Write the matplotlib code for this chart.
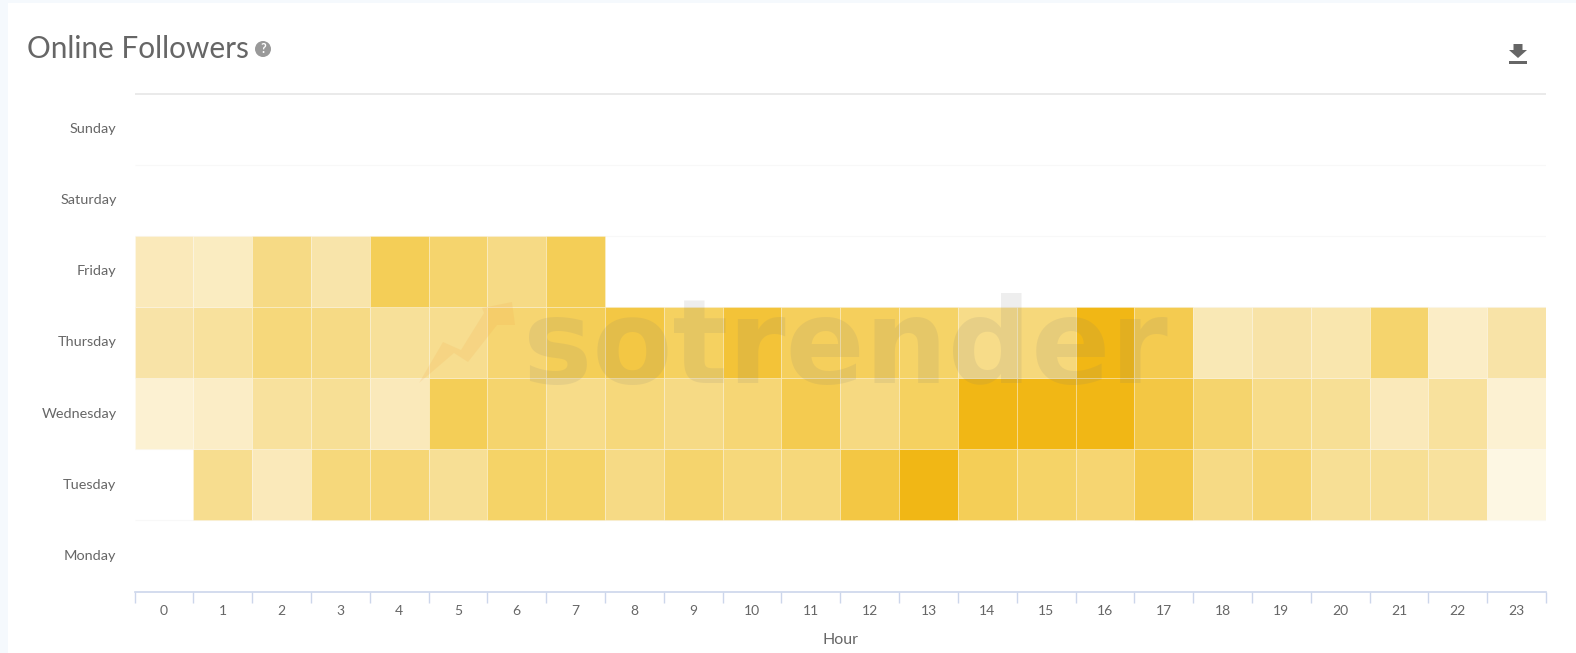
import numpy as np
import matplotlib.pyplot as plt
from matplotlib.colors import LinearSegmentedColormap
from matplotlib.patches import Polygon, Circle, Rectangle
from matplotlib.transforms import ScaledTranslation

W, H = 1576, 653

hours = list(range(24))
days = ["Monday", "Tuesday", "Wednesday", "Thursday", "Friday", "Saturday", "Sunday"]

# activity level, nan = no data
monday = [np.nan] * 24
tuesday = [np.nan, .45, .25, .55, .58, .42, .65, .65, .50, .62, .55, .55, .80, 1.0, .72, .65, .60, .78, .50, .60, .42, .42, .38, .08]
wednesday = [.15, .20, .38, .42, .25, .72, .62, .48, .55, .50, .58, .75, .52, .68, 1.0, 1.0, 1.0, .80, .62, .48, .42, .25, .38, .15]
thursday = [.33, .38, .55, .50, .40, .45, .60, .72, .80, .68, .85, .70, .70, .65, .48, .55, 1.0, .75, .27, .33, .30, .62, .20, .33]
friday = [.25, .22, .50, .32, .72, .62, .50, .72] + [np.nan] * 16
saturday = [np.nan] * 24
sunday = [np.nan] * 24

grid = np.array([monday, tuesday, wednesday, thursday, friday, saturday, sunday])

plt.rcParams['font.family'] = ['Lato', 'DejaVu Sans']
fig = plt.figure(figsize=(W / 100, H / 100), dpi=100)
fig.patch.set_facecolor("white")

# page background strips live in a full-figure pixel axes
bg = fig.add_axes([0, 0, 1, 1], zorder=0)
bg.set_xlim(0, W)
bg.set_ylim(H, 0)
bg.axis("off")
bg.add_patch(Rectangle((0, 0), 8, H, fc="#f5f9fd", ec="none"))
bg.add_patch(Rectangle((0, 0), W, 3, fc="#f5f9fd", ec="none"))

left, right, top, bottom = 134.5, 1546, 93.5, 591.5
ax = fig.add_axes([left / W, 1 - bottom / H, (right - left) / W, (bottom - top) / H], zorder=1)
ax.patch.set_alpha(0)

cmap = LinearSegmentedColormap.from_list("followers", ["#fffdf6", "#f8e3a6", "#f5d264", "#f1b715"])

for row in range(len(days)):
    for col in hours:
        v = grid[row, col]
        if np.isnan(v):
            continue
        ax.bar(col, 1, width=1, bottom=row, align="edge", color=cmap(v),
               edgecolor=(1, 1, 1, 0.3), linewidth=0.6, zorder=2)

ax.set_xlim(0, 24)
ax.set_ylim(0, 7)
for y in range(1, 7):
    ax.axhline(y, color="#f8f8f8", lw=0.8, zorder=0, solid_capstyle="butt")
ax.axhline(7, color="#e6e6e6", lw=1.2, clip_on=False, solid_capstyle="butt")

for s in ["top", "left", "right"]:
    ax.spines[s].set_visible(False)
ax.spines["bottom"].set_color("#ccd6eb")
ax.spines["bottom"].set_linewidth(1.2)

ax.set_xticks(np.arange(25))
ax.set_xticklabels([])
ax.tick_params(axis="x", which="major", length=8, width=1, color="#ccd6eb")
ax.set_xticks(np.arange(24) + 0.5, minor=True)
ax.set_xticklabels([str(h) for h in hours], minor=True)
ax.tick_params(axis="x", which="minor", length=0, pad=10, labelsize=10, labelcolor="#666666")
ax.set_yticks(np.arange(7) + 0.5)
ax.set_yticklabels(days)
ax.tick_params(axis="y", length=0, pad=13, labelsize=10.4, labelcolor="#666666")
shift = ScaledTranslation(0, 1 / 100, fig.dpi_scale_trans)
for lab in ax.get_yticklabels():
    lab.set_transform(lab.get_transform() + shift)
ax.set_xlabel("Hour", fontsize=11.5, color="#666666", labelpad=11)

# overlay: title, icons, watermark
ov = fig.add_axes([0, 0, 1, 1], zorder=2)
ov.set_xlim(0, W)
ov.set_ylim(H, 0)
ov.axis("off")

ov.text(27, 49, "Online Followers", fontsize=21.4, color="#666666", va="center", ha="left")
ov.add_patch(Circle((263, 49), 8, fc="#999999", ec="none"))
ov.text(263, 49, "?", fontsize=9, fontweight="bold", color="white", ha="center", va="center")

ov.add_patch(Polygon([(1513.5, 44), (1522.5, 44), (1522.5, 50), (1527, 50), (1518, 58), (1509, 50), (1513.5, 50)],
                     fc="#666666", ec="none"))
ov.add_patch(Rectangle((1509, 61), 18, 2.5, fc="#666666", ec="none"))

ov.text(845, 383, "sotrender", fontsize=84, fontweight="bold", family="DejaVu Sans",
        color="#777777", alpha=0.12, ha="center", va="baseline")
ov.add_patch(Polygon([(419, 383), (443, 342), (461, 350), (484, 313), (482, 308), (512, 302), (515, 325),
                      (497, 325), (468, 362), (454, 353)], fc="#f0a040", ec="none", alpha=0.14))

fig.savefig("out.png", dpi=100)
